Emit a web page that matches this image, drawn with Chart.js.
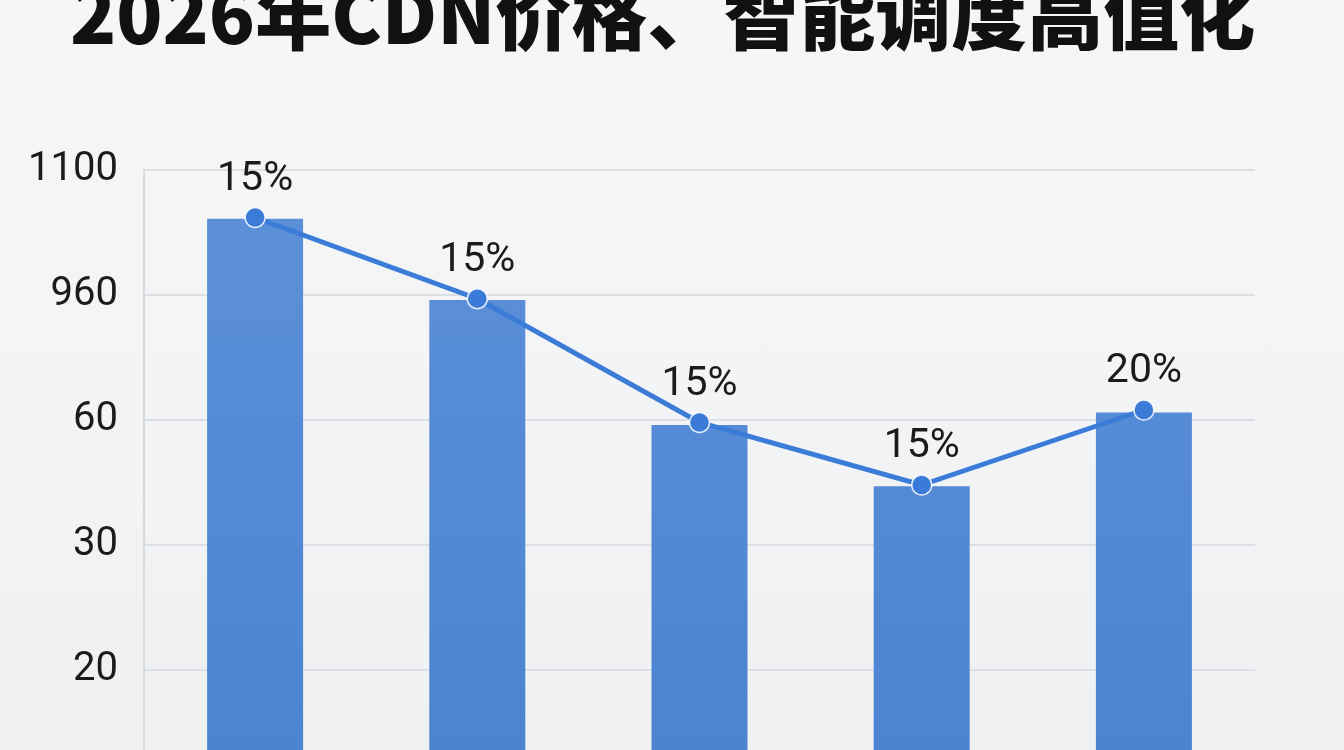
<!DOCTYPE html>
<html lang="zh-CN">
<head>
<meta charset="utf-8">
<title>2026年CDN价格、智能调度高值化</title>
<script src="https://cdn.jsdelivr.net/npm/chart.js@4.4.1/dist/chart.umd.min.js"></script>
<style>
  html, body {
    margin: 0;
    padding: 0;
    width: 1344px;
    height: 750px;
    overflow: hidden;
    background: linear-gradient(180deg, #f6f6f6 0%, #f3f4f5 50%, #eef0f2 100%);
  }
  .title {
    position: absolute;
    left: 70px;
    top: -27px;
    font-family: "Noto Sans CJK SC", sans-serif;
    font-weight: 900;
    font-size: 76px;
    line-height: 1;
    color: #111;
    white-space: nowrap;
  }
  #cdnChart {
    position: absolute;
    left: 0;
    top: 0;
  }
</style>
</head>
<body>
<div class="title">2026年CDN价格、智能调度高值化</div>
<canvas id="cdnChart" width="1344" height="750"></canvas>
<script>
// Y axis labels as printed, bottom to top (evenly spaced on the chart)
const yTickLabels = ["20", "30", "60", "960", "1100"];

// categories (no labels are shown on the x axis)
const categories = ["1", "2", "3", "4", "5"];

// heights, in gridline steps above the "20" line
const barLevels = [3.61, 2.96, 1.96, 1.47, 2.06];
const lineLevels = [3.62, 2.97, 1.98, 1.48, 2.08];

// labels printed above each point
const pointLabels = ["15%", "15%", "15%", "15%", "20%"];

const axisMax = yTickLabels.length - 1;
const axisMin = -0.64; // bars run off the bottom of the picture

function barGradient(context) {
    const area = context.chart.chartArea;
    if (!area) return "#5589d5";
    const g = context.chart.ctx.createLinearGradient(0, area.top, 0, area.bottom);
    g.addColorStop(0, "#5d91d9");
    g.addColorStop(1, "#4c84d2");
    return g;
}

// draw the % labels above the line points
const pointLabelPlugin = {
    id: "pointLabels",
    afterDatasetsDraw(chart) {
        const meta = chart.getDatasetMeta(1);
        const ctx = chart.ctx;
        ctx.save();
        ctx.font = "400 41px Roboto, 'Liberation Sans', sans-serif";
        ctx.fillStyle = "#1b1b1b";
        ctx.textAlign = "center";
        ctx.textBaseline = "alphabetic";
        meta.data.forEach((pt, i) => {
            ctx.fillText(pointLabels[i], pt.x, pt.y - 28);
        });
        ctx.restore();
    }
};

new Chart(document.getElementById("cdnChart"), {
    data: {
        labels: categories,
        datasets: [
            {
                type: "bar",
                data: barLevels,
                base: axisMin,
                backgroundColor: barGradient,
                borderWidth: 0,
                barPercentage: 0.432,
                categoryPercentage: 1.0,
                order: 2
            },
            {
                type: "line",
                data: lineLevels,
                borderColor: "#3b7cd8",
                borderWidth: 5,
                pointRadius: 10,
                pointBackgroundColor: "#3a7bd8",
                pointBorderColor: "rgba(255,255,255,0.85)",
                pointBorderWidth: 1.5,
                tension: 0,
                clip: false,
                order: 1
            }
        ]
    },
    options: {
        responsive: false,
        animation: false,
        devicePixelRatio: 1,
        layout: {
            autoPadding: false,
            padding: { top: 170, right: 89, bottom: 0, left: 0 }
        },
        plugins: {
            legend: { display: false },
            tooltip: { enabled: false },
            title: { display: false }
        },
        scales: {
            x: {
                type: "category",
                display: false
            },
            y: {
                type: "linear",
                min: axisMin,
                max: axisMax,
                afterBuildTicks: (scale) => {
                    scale.ticks = yTickLabels.map((_, i) => ({ value: i }));
                },
                afterFit: (scale) => {
                    scale.width = 144;
                    // the bottom tick isn't at the edge, so no room is needed under it
                    scale.paddingBottom = 0;
                },
                ticks: {
                    padding: 26,
                    color: "#1b1b1b",
                    font: { family: "Roboto, 'Liberation Sans', sans-serif", size: 40 },
                    callback: (value) => yTickLabels[value]
                },
                grid: {
                    color: "#dcdfe3",
                    lineWidth: 2,
                    drawTicks: false
                },
                border: {
                    display: true,
                    color: "#d6d9dd",
                    width: 2
                }
            }
        }
    },
    plugins: [pointLabelPlugin]
});
</script>
</body>
</html>
